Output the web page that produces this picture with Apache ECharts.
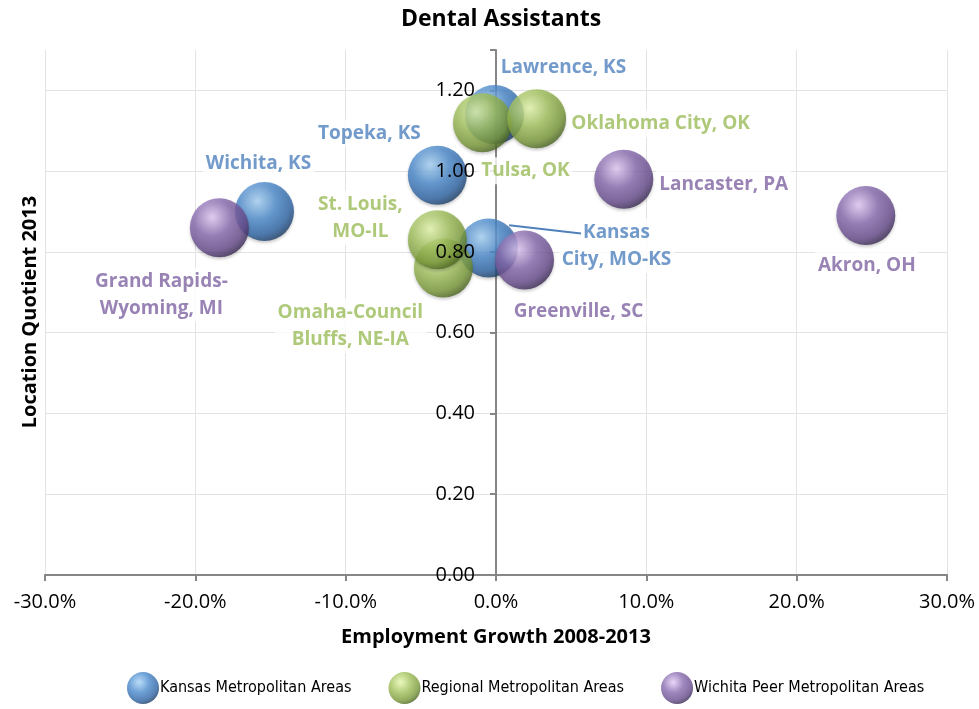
<!DOCTYPE html>
<html>
<head>
<meta charset="utf-8">
<script src="https://cdn.jsdelivr.net/npm/echarts@6/dist/echarts.min.js"></script>
<style>
html,body{margin:0;padding:0;background:#fff;}
#chart{width:979px;height:709px;}
</style>
</head>
<body>
<div id="chart"></div>
<script>
// ---- data (employment growth in %, location quotient) ----
var kansasNames = ['Wichita, KS', 'Topeka, KS', 'Lawrence, KS', 'Kansas\nCity, MO-KS'];
var kansasGrowth = [-15.4, -3.9, -0.1, -0.5];
var kansasLQ = [0.90, 0.99, 1.14, 0.81];

var regionalNames = ['Omaha-Council\nBluffs, NE-IA', 'St. Louis,\nMO-IL', 'Tulsa, OK', 'Oklahoma City, OK'];
var regionalGrowth = [-3.5, -3.9, -0.9, 2.7];
var regionalLQ = [0.76, 0.83, 1.12, 1.13];

var peerNames = ['Grand Rapids-\nWyoming, MI', 'Greenville, SC', 'Lancaster, PA', 'Akron, OH'];
var peerGrowth = [-18.4, 1.9, 8.5, 24.6];
var peerLQ = [0.86, 0.78, 0.98, 0.89];

var seriesNames = ['Kansas Metropolitan Areas', 'Regional Metropolitan Areas', 'Wichita Peer Metropolitan Areas'];
var xTicks = { min: -30, max: 30, step: 10 };
var yTicks = { min: 0, max: 1.3, step: 0.2 };

// ---- layout (label offsets in px relative to bubble centre) ----
var kansasLabelOff = [[-6, -48], [-68, -42], [69, -47], [128, -2]];
var regionalLabelOff = [[-93, 58], [-77, -22], [43, 48], [124, 5]];
var peerLabelOff = [[-58, 67], [54, 52], [100, 5], [1, 50]];
var LEADER = { series: 0, index: 3 }; // Kansas City label has a leader line

var FONT = "'Open Sans', 'Noto Sans', sans-serif";
var LABEL_SIZE = 19, LABEL_LH = 27, BUBBLE = 59;
var GRID = { left: 45, right: 32, top: 50, bottom: 134 };
var CHART_W = 979;

function measure(text, font) {
  var c = document.createElement('canvas').getContext('2d');
  c.font = font;
  return c.measureText(text).width;
}

function grad(c0, c1, c2, c3) {
  return {
    type: 'radial', x: 0.38, y: 0.32, r: 0.72,
    colorStops: [
      { offset: 0, color: c0 },
      { offset: 0.45, color: c1 },
      { offset: 0.8, color: c2 },
      { offset: 1, color: c3 }
    ]
  };
}
var colors = [
  { label: '#4F81BD', fill: grad('#a8d3f6', '#4a89cc', '#2d63a3', '#1a3960') },
  { label: '#9BBB59', fill: grad('#e6f7ad', '#a0c05b', '#779737', '#46601f') },
  { label: '#8064A2', fill: grad('#e4cbf7', '#876aae', '#654a8a', '#34264d') }
];

function makeSeries(idx, names, xs, ys, offs) {
  var data = [];
  for (var i = 0; i < names.length; i++) {
    data.push({ name: names[i], value: [xs[i], ys[i]] });
  }
  return {
    name: seriesNames[idx],
    type: 'scatter',
    symbol: 'circle',
    symbolSize: BUBBLE,
    data: data,
    z: 2,
    itemStyle: {
      color: colors[idx].fill,
      shadowColor: 'rgba(0,0,0,0.25)',
      shadowBlur: 3,
      shadowOffsetY: 2
    },
    emphasis: { disabled: true },
    label: {
      show: true,
      position: 'inside',
      formatter: function (p) { return p.name; },
      color: colors[idx].label,
      fontFamily: FONT,
      fontWeight: 'bold',
      fontSize: LABEL_SIZE,
      lineHeight: LABEL_LH,
      align: 'center',
      verticalAlign: 'middle',
      backgroundColor: '#fff',
      padding: [0, 3]
    },
    labelLayout: function (p) {
      var o = offs[p.dataIndex];
      return { dx: o[0], dy: o[1] };
    }
  };
}

var nLines = Math.floor((yTicks.max - yTicks.min) / yTicks.step + 1e-9) + 2;
var splitColors = [];
for (var k = 0; k < nLines; k++) splitColors.push(k === nLines - 1 ? 'rgba(0,0,0,0)' : '#e3e3e3');

// y axis sits at x = 0: shift it from the grid's left edge by the px distance to zero
var plotW = CHART_W - GRID.left - GRID.right;
var zeroShift = plotW * (0 - xTicks.min) / (xTicks.max - xTicks.min);

var yLabelStyle = {
  margin: 21,
  showMaxLabel: false,
  fontFamily: FONT, fontSize: 20, color: '#000',
  formatter: function (v) { return v.toFixed(2); }
};

var yNameGraphic = {
  type: 'text',
  x: 30, y: 312,
  rotation: Math.PI / 2,
  style: {
    text: 'Location Quotient 2013',
    fontFamily: FONT, fontWeight: 'bold', fontSize: 20, fill: '#000',
    align: 'center', verticalAlign: 'middle'
  }
};

var chart = echarts.init(document.getElementById('chart'));
chart.setOption({
  animation: false,
  backgroundColor: '#fff',
  title: {
    text: 'Dental Assistants',
    left: 396,
    top: 3,
    textStyle: { fontFamily: FONT, fontWeight: 'bold', fontSize: 23, color: '#000' }
  },
  grid: { left: GRID.left, right: GRID.right, top: GRID.top, bottom: GRID.bottom, containLabel: false },
  xAxis: {
    type: 'value',
    min: xTicks.min, max: xTicks.max, interval: xTicks.step,
    axisLine: { show: true, onZero: false, lineStyle: { color: '#868686', width: 2 } },
    axisTick: { show: true, length: 6, lineStyle: { color: '#868686', width: 2 } },
    axisLabel: {
      margin: 17,
      fontFamily: FONT, fontSize: 20, color: '#000',
      formatter: function (v) { return v.toFixed(1) + '%'; }
    },
    splitLine: { show: true, lineStyle: { color: '#e3e3e3', width: 1 } },
    name: 'Employment Growth 2008-2013',
    nameLocation: 'middle',
    nameGap: 52,
    nameTextStyle: { fontFamily: FONT, fontWeight: 'bold', fontSize: 20, color: '#000' }
  },
  yAxis: [{
    type: 'value',
    position: 'left',
    offset: -zeroShift,
    min: yTicks.min, max: yTicks.max, interval: yTicks.step,
    z: 0,
    axisLine: { show: true, onZero: false, lineStyle: { color: '#868686', width: 2 } },
    axisTick: { show: true, length: 6, lineStyle: { color: '#868686', width: 2 } },
    axisLabel: { show: false },
    splitLine: { show: true, lineStyle: { color: splitColors, width: 1 } }
  }, {
    type: 'value',
    position: 'left',
    offset: -zeroShift,
    min: yTicks.min, max: yTicks.max, interval: yTicks.step,
    z: 5,
    axisLine: { show: false, onZero: false },
    axisTick: { show: false },
    axisLabel: yLabelStyle,
    splitLine: { show: false }
  }],
  legend: {
    bottom: 0,
    left: 122,
    itemGap: 37,
    itemWidth: 32,
    itemHeight: 32,
    icon: 'circle',
    selectedMode: false,
    textStyle: { fontFamily: "'DejaVu Sans Condensed', 'Liberation Sans Narrow', 'Noto Sans', sans-serif", fontSize: 16, color: '#000', padding: [0, 0, 0, -4] },
    data: seriesNames
  },
  graphic: [yNameGraphic],
  series: [
    makeSeries(0, kansasNames, kansasGrowth, kansasLQ, kansasLabelOff),
    makeSeries(1, regionalNames, regionalGrowth, regionalLQ, regionalLabelOff),
    makeSeries(2, peerNames, peerGrowth, peerLQ, peerLabelOff)
  ]
});

// leader line for the Kansas City label: from the bubble's upper-right edge to the first label line,
// positioned through the chart's own coordinate conversion
(function () {
  var i = LEADER.index;
  var c = chart.convertToPixel({ seriesIndex: LEADER.series }, [kansasGrowth[i], kansasLQ[i]]);
  var rad = BUBBLE / 2;
  var off = kansasLabelOff[i];
  var lines = kansasNames[i].split('\n');
  var w = measure(lines[0], 'bold ' + LABEL_SIZE + 'px ' + FONT);
  var labelCx = c[0] + off[0], labelCy = c[1] + off[1];
  var firstLineY = labelCy - (lines.length * LABEL_LH) / 2 + LABEL_LH / 2 + 1;
  var ex = labelCx - w / 2 - 2;
  var sx = c[0] + rad * 0.7, sy = c[1] - rad * 0.77;
  chart.setOption({
    graphic: [yNameGraphic, {
      type: 'line',
      z: 100,
      shape: { x1: sx, y1: sy, x2: ex, y2: firstLineY },
      style: { stroke: colors[0].label, lineWidth: 2 }
    }]
  });
})();
</script>
</body>
</html>
